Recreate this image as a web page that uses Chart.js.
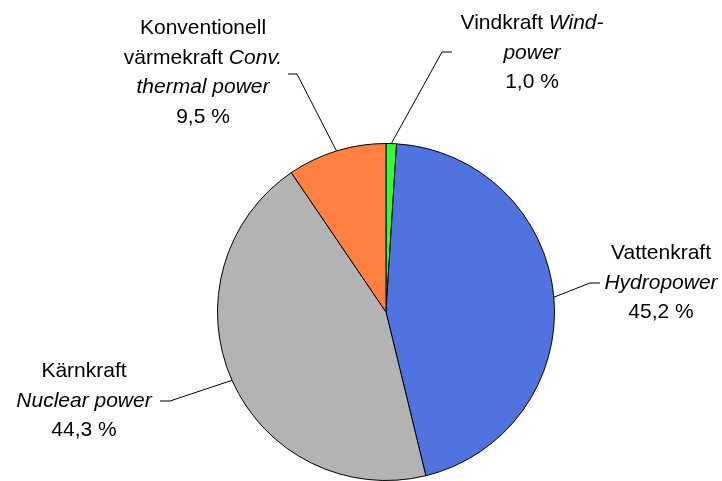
<!DOCTYPE html>
<html>
<head>
<meta charset="utf-8">
<script src="https://cdn.jsdelivr.net/npm/chart.js@4/dist/chart.umd.min.js"></script>
<style>
  html, body { margin: 0; padding: 0; background: #fff; }
  #wrap { width: 722px; height: 481px; }
</style>
</head>
<body>
<div id="wrap"><canvas id="chart" width="722" height="481"></canvas></div>
<script>
// Dados: ordem no sentido horário a partir do topo
const categories = ['Vindkraft', 'Vattenkraft', 'Kärnkraft', 'Konventionell värmekraft'];
const categoriesEn = ['Wind-power', 'Hydropower', 'Nuclear power', 'Conv. thermal power'];
const shares = [1.0, 45.2, 44.3, 9.5];
const colors = ['#2EFF2E', '#5073DF', '#B3B3B3', '#FF8040'];

// Linhas dos rótulos como aparecem na figura ([texto, itálico])
const labelLines = [
    [[['Vindkraft ', false], ['Wind-', true]], [['power', true]]],
    [[['Vattenkraft', false]], [['Hydropower', true]]],
    [[['Kärnkraft', false]], [['Nuclear power', true]]],
    [[['Konventionell', false]], [['värmekraft ', false], ['Conv.', true]], [['thermal power', true]]]
];

// Posição dos rótulos (centro x, primeira linha de base) e cotovelo da linha guia
const labelPos = [
    { x: 532, y: 29, elbow: [[452, 52], [442, 52]] },
    { x: 661, y: 259, elbow: [[600, 283], [590, 283]] },
    { x: 84, y: 377, elbow: [[160, 401], [170, 401]] },
    { x: 203, y: 34, elbow: [[288, 74], [297, 74]] }
];

const FONT_SIZE = 21;
const LINE_H = 29.7;
const FAMILY = "'Liberation Sans', Arial, sans-serif";

function fmtPct(v) {
    return v.toFixed(1).replace('.', ',') + ' %';
}

const labelPlugin = {
    id: 'pieLabels',
    afterDraw(chart) {
        const ctx = chart.ctx;
        const arcs = chart.getDatasetMeta(0).data;
        ctx.save();
        ctx.fillStyle = '#000';
        ctx.strokeStyle = '#000';
        ctx.lineWidth = 1;
        ctx.textBaseline = 'alphabetic';

        arcs.forEach((arc, i) => {
            const p = labelPos[i];
            // linha guia: do cotovelo até a borda da fatia
            const mid = (arc.startAngle + arc.endAngle) / 2;
            const ex = arc.x + Math.cos(mid) * arc.outerRadius;
            const ey = arc.y + Math.sin(mid) * arc.outerRadius;
            ctx.beginPath();
            ctx.moveTo(p.elbow[0][0], p.elbow[0][1]);
            ctx.lineTo(p.elbow[1][0], p.elbow[1][1]);
            ctx.lineTo(ex, ey);
            ctx.stroke();

            // texto
            const lines = labelLines[i].concat([[[fmtPct(shares[i]), false]]]);
            lines.forEach((segs, li) => {
                let total = 0;
                const widths = segs.map(([t, it]) => {
                    ctx.font = (it ? 'italic ' : '') + FONT_SIZE + 'px ' + FAMILY;
                    const w = ctx.measureText(t).width;
                    total += w;
                    return w;
                });
                let x = p.x - total / 2;
                const y = p.y + li * LINE_H;
                segs.forEach(([t, it], si) => {
                    ctx.font = (it ? 'italic ' : '') + FONT_SIZE + 'px ' + FAMILY;
                    ctx.textAlign = 'left';
                    ctx.fillText(t, x, y);
                    x += widths[si];
                });
            });
        });
        ctx.restore();
    }
};

new Chart(document.getElementById('chart'), {
    type: 'pie',
    data: {
        labels: categories.map((c, i) => c + ' ' + categoriesEn[i]),
        datasets: [{
            data: shares,
            backgroundColor: colors,
            borderColor: '#000',
            borderWidth: 1
        }]
    },
    options: {
        responsive: false,
        animation: false,
        devicePixelRatio: 1,
        layout: { padding: { top: 143, bottom: 0, left: 100, right: 50 } },
        plugins: {
            legend: { display: false },
            tooltip: { enabled: false }
        }
    },
    plugins: [labelPlugin]
});
</script>
</body>
</html>
